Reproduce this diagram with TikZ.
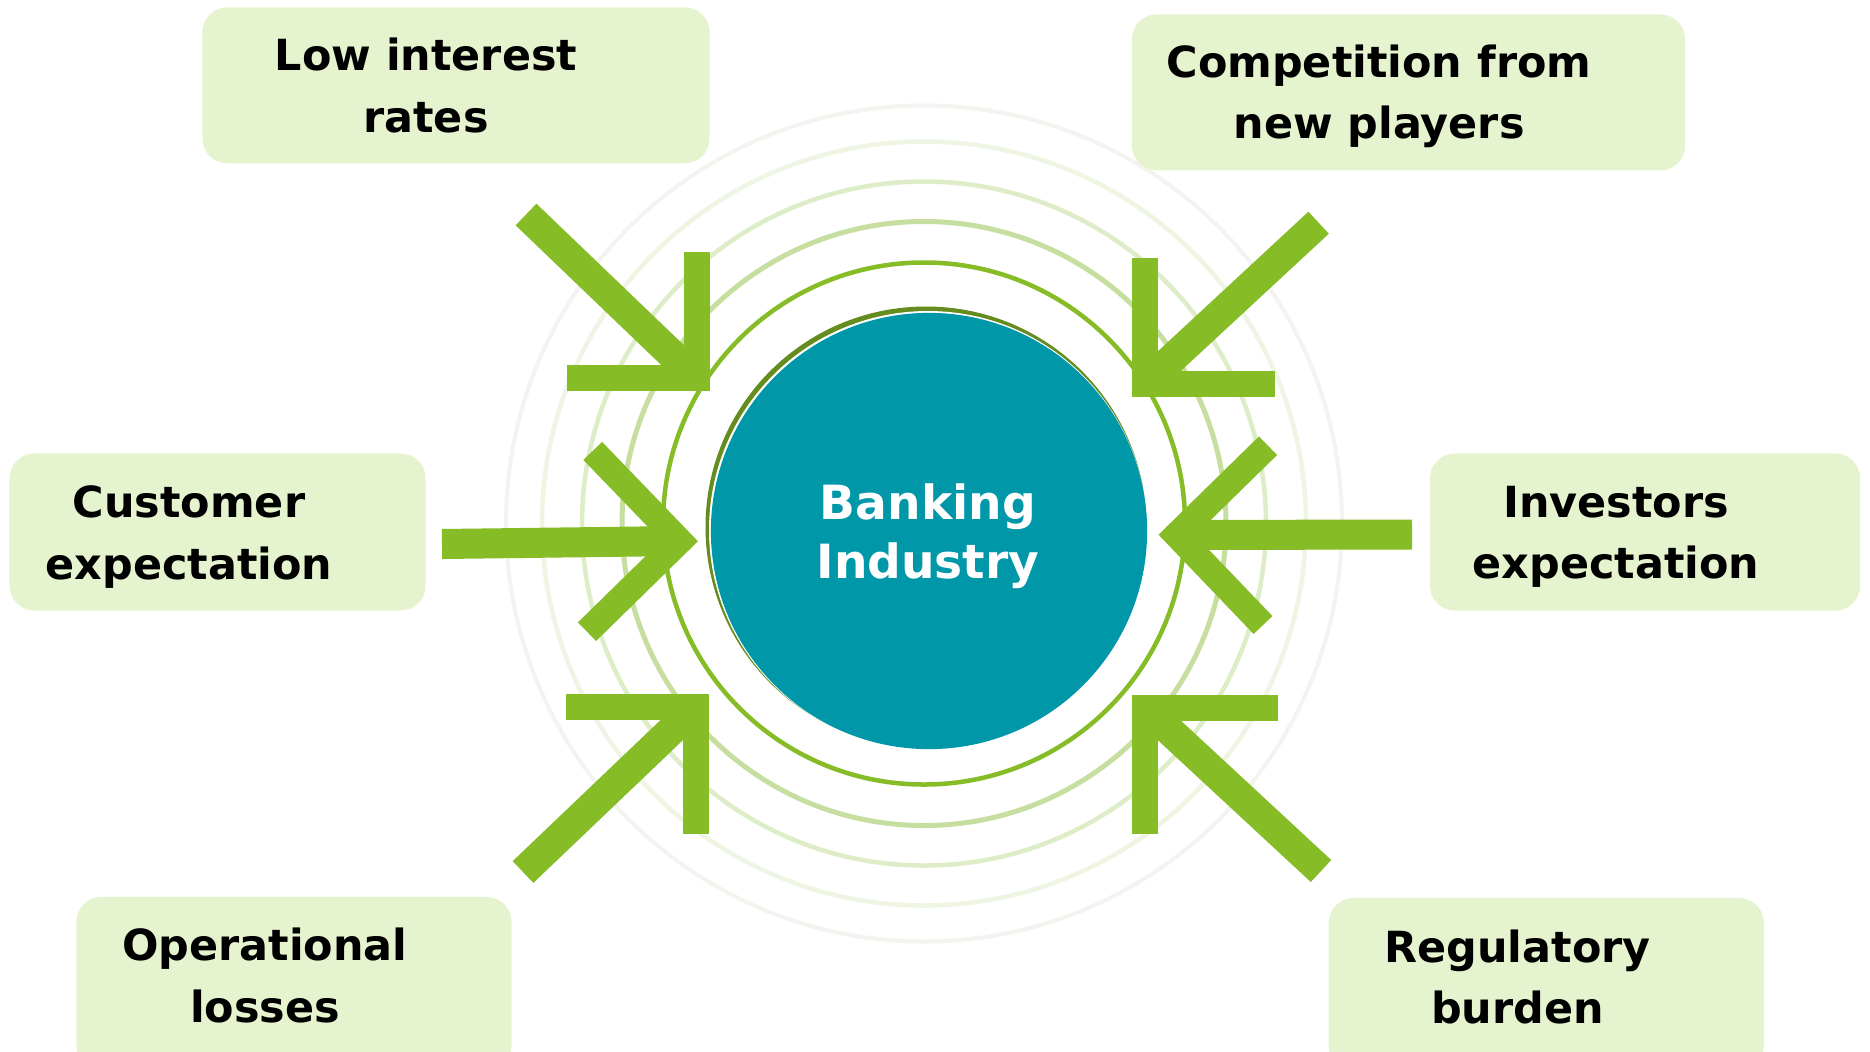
\documentclass[tikz,border=0pt]{standalone}
\usepackage{fontspec}
\setmainfont{DejaVu Sans}
\definecolor{arrowgreen}{HTML}{86BC25}
\definecolor{boxgreen}{HTML}{E5F4CF}
\definecolor{coreteal}{HTML}{0097A9}
\definecolor{darkolive}{HTML}{658C1E}
\definecolor{ringA}{HTML}{86BC25}
\definecolor{ringB}{HTML}{C6DFA0}
\definecolor{ringC}{HTML}{DDEDC8}
\definecolor{ringD}{HTML}{EEF5E3}
\definecolor{ringE}{HTML}{F3F4F0}
\begin{document}
\begin{tikzpicture}[x=0.01cm,y=-0.01cm,
  every node/.style={inner sep=0pt, outer sep=0pt},
  factorbox/.style={rectangle, fill=boxgreen, rounded corners=0.25cm},
  factortext/.style={align=center, text=black,
    font=\bfseries\fontsize{12.2pt}{17.4pt}\selectfont},
  shaft/.style={draw=arrowgreen, line width=0.30cm, line cap=butt},
  headbar/.style={draw=arrowgreen, line width=0.26cm, line cap=butt, line join=miter},
  ringline/.style={line width=#1}
]
\clip (0,0) rectangle (1870,1051);
\fill[white] (0,0) rectangle (1870,1051);

% concentric rings around the core
\coordinate (hub) at (924,523.5);
\draw[ringline=0.04cm, draw=ringE] (hub) circle[radius=418];
\draw[ringline=0.045cm, draw=ringD] (hub) circle[radius=382];
\draw[ringline=0.045cm, draw=ringC] (hub) circle[radius=342];
\draw[ringline=0.05cm, draw=ringB] (hub) circle[radius=302];
\draw[ringline=0.045cm, draw=ringA] (hub) circle[radius=261];

% core disc with its dark rim
\fill[darkolive] (926,527) circle[radius=220.5];
\fill[white] (928,530) circle[radius=219];
\node[circle, fill=coreteal, minimum size=4.36cm] (core) at (929,531) {};
\node[align=center, text=white, font=\bfseries\fontsize{13.4pt}{16.8pt}\selectfont]
  (coretext) at (928,536.5) {Banking\\Industry};

% arrow anchor points
\coordinate (tlTail) at (526,214.5);
\coordinate (tlHead) at (696.5,378);
\coordinate (trTail) at (1318.6,222.7);
\coordinate (trHead) at (1145.2,383.5);
\coordinate (blTail) at (523,872);
\coordinate (blHead) at (695.5,707.4);
\coordinate (brTail) at (1321,871);
\coordinate (brHead) at (1145.2,708);
\coordinate (mlTail) at (442,544);
\coordinate (mlHead) at (679.6,541);
\coordinate (mrTail) at (1412,534.5);
\coordinate (mrHead) at (1176.8,535);

% top-left arrow
\draw[shaft] (tlTail) -- (tlHead);
\draw[headbar] (tlHead |- 0,252) -- (tlHead) -- (567,378);
% top-right arrow
\draw[shaft] (trTail) -- (trHead);
\draw[headbar] (trHead |- 0,258) -- (trHead) -- (1275,383.5);
% bottom-left arrow
\draw[shaft] (blTail) -- (blHead);
\draw[headbar] (blHead |- 0,833.7) -- (blHead) -- (566,707.4);
% bottom-right arrow
\draw[shaft] (brTail) -- (brHead);
\draw[headbar] (brHead |- 0,833.7) -- (brHead) -- (1278.4,708);
% middle-left arrow
\draw[shaft] (mlTail) -- (mlHead);
\draw[headbar] (592.7,450.9) -- (mlHead) -- (587,631.7);
% middle-right arrow
\draw[shaft] (mrTail) -- (mrHead);
\draw[headbar] (1268,445.7) -- (mrHead) -- (1263,625);

% factor boxes
\node[factorbox, minimum width=5.07cm, minimum height=1.56cm] (lowbox) at (456,85.3) {};
\node[factortext] (low) at (426,85.5) {Low interest\\rates};

\node[factorbox, minimum width=5.53cm, minimum height=1.56cm] (compbox) at (1408.5,92.4) {};
\node[factortext] (comp) at (1379,96.5) {Competition from\\new players};

\node[factorbox, minimum width=4.16cm, minimum height=1.57cm] (custbox) at (217.6,532) {};
\node[factortext] (cust) at (189,537) {Customer\\expectation};

\node[factorbox, minimum width=4.30cm, minimum height=1.57cm] (invbox) at (1645,532) {};
\node[factortext] (inv) at (1616,537) {Investors\\expectation};

\node[factorbox, minimum width=4.35cm, minimum height=1.73cm] (operbox) at (294,983.5) {};
\node[factortext] (oper) at (265,975.5) {Operational\\losses};

\node[factorbox, minimum width=4.35cm, minimum height=1.72cm] (regbox) at (1546.3,984) {};
\node[factortext] (reg) at (1517.5,977) {Regulatory\\burden};
\end{tikzpicture}
\end{document}
